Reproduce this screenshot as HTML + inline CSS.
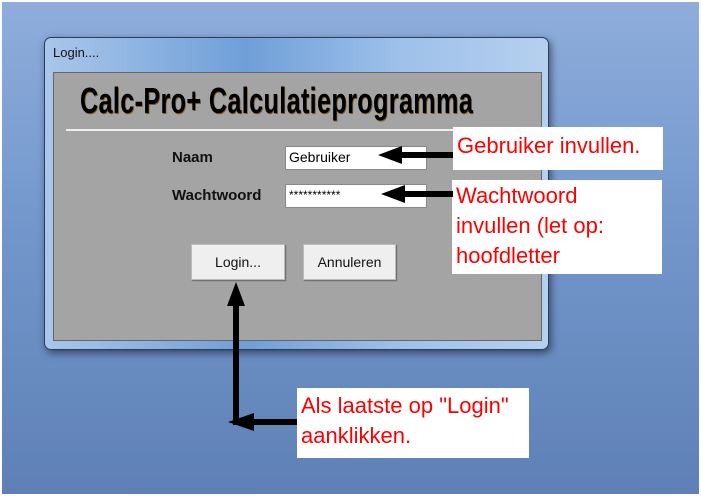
<!DOCTYPE html>
<html><head><meta charset="utf-8"><style>
body{margin:0;width:701px;height:496px;overflow:hidden;position:relative;font-family:"Liberation Sans",sans-serif;background:#fff}
.bg{position:absolute;left:2px;top:2px;width:697px;height:492px;background:linear-gradient(180deg,#8eaddb 0%,#7397cc 45%,#5e80b6 100%)}
.win{position:absolute;left:44px;top:37px;width:505px;height:313px;border-radius:7px;border:1px solid #2a3f5c;background:linear-gradient(90deg,#a9c6ea,#6f9fd8 40%,#9dc0ea 70%,#b6d0ef);box-shadow:2px 3px 8px rgba(0,0,0,.5);box-sizing:border-box}
.panel{position:absolute;left:53px;top:72px;width:489px;height:269px;background:#a4a4a4;border:1px solid #666;box-sizing:border-box}
.abs{position:absolute}
.box{position:absolute;background:#fff;color:#f00;font-size:22px;line-height:30px;padding:2px 4px;box-sizing:border-box;white-space:nowrap}
.btn{position:absolute;background:#efefef;border:1px solid #bbb;box-shadow:1px 1px 1px #666;font-size:14px;text-align:center;line-height:34px;box-sizing:border-box;color:#111}
.inp{position:absolute;background:#fff;border:1px solid #888;font-size:14px;line-height:20px;padding-left:3px;box-sizing:border-box}
</style></head><body>
<div class="bg"></div>
<div class="win"></div>
<div class="abs" style="left:53px;top:45px;font-size:13px;color:#111">Login....</div>
<div class="panel"></div>
<div class="abs" style="left:80px;top:80px;font-size:36px;font-weight:bold;color:#000;transform:scaleX(0.7);transform-origin:0 0;white-space:nowrap;letter-spacing:0.5px;text-shadow:1px 1px 0 #7a5a30">Calc-Pro+ Calculatieprogramma</div>
<div class="abs" style="left:66px;top:129px;width:390px;height:2px;background:#eee"></div>
<div class="abs" style="left:172px;top:149px;font-size:15px;font-weight:bold;color:#111">Naam</div>
<div class="abs" style="left:172px;top:187px;font-size:15px;font-weight:bold;color:#111">Wachtwoord</div>
<div class="inp" style="left:285px;top:146px;width:142px;height:24px">Gebruiker</div>
<div class="inp" style="left:285px;top:184px;width:142px;height:24px;font-size:12px">***********</div>
<div class="btn" style="left:191px;top:244px;width:94px;height:36px">Login...</div>
<div class="btn" style="left:303px;top:244px;width:93px;height:36px">Annuleren</div>
<div class="box" style="left:453px;top:127px;width:210px;height:43px;padding-top:4px">Gebruiker invullen.</div>
<div class="box" style="left:452px;top:180px;width:210px;height:94px;padding-top:1px">Wachtwoord<br>invullen (let op:<br>hoofdletter</div>
<div class="box" style="left:297px;top:388px;width:232px;height:70px;padding-top:3px">Als laatste op "Login"<br>aanklikken.</div>
<svg class="abs" style="left:0;top:0" width="701" height="496">
<g fill="#000" stroke="none">
<rect x="395" y="152" width="58" height="6"/><polygon points="378,155 402,146 402,164"/>
<rect x="397" y="191" width="56" height="6"/><polygon points="381,194 405,185 405,203"/>
<rect x="233" y="300" width="6" height="125"/><polygon points="236,282 227,306 245,306"/>
<rect x="236" y="419" width="61" height="6"/><polygon points="228,422 254,413 254,431"/>
</g></svg>
</body></html>
